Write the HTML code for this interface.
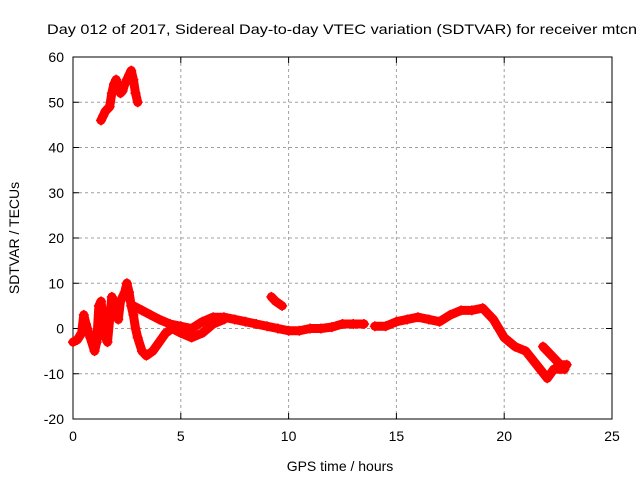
<!DOCTYPE html>
<html><head><meta charset="utf-8"><style>
body{margin:0;background:#fff;font-family:"Liberation Sans",sans-serif}
svg text{font-family:"Liberation Sans",sans-serif;font-size:14px;fill:#000}
</style></head><body>
<svg width="640" height="480">
<g id="grid"></g>
<g id="axes"></g>
<g id="marks"></g>
<text x="47" y="34" textLength="590" lengthAdjust="spacingAndGlyphs">Day 012 of 2017, Sidereal Day-to-day VTEC variation (SDTVAR) for receiver mtcn</text>
<text x="340" y="471" text-anchor="middle">GPS time / hours</text>
<text transform="translate(19,238) rotate(-90)" text-anchor="middle">SDTVAR / TECUs</text>
</svg>
<script>
const xTicks=[0,5,10,15,20,25];
const yTicks=[-20,-10,0,10,20,30,40,50,60];
const trackA=[[1.3,46],[1.4,47],[1.5,48],[1.6,48.5],[1.7,49],[1.8,52],[1.9,54],[2.0,55],[2.1,53],[2.2,52],[2.3,52.5],[2.4,54],[2.5,55],[2.6,56],[2.7,57],[2.8,55],[2.9,52],[3.0,50]];
const trackB=[[0,-3],[0.2,-2.5],[0.4,-1],[0.5,3],[0.6,1],[0.8,-2],[1.0,-5],[1.1,-3],[1.2,5],[1.3,6],[1.4,2],[1.5,-2],[1.6,-3],[1.7,2],[1.8,7],[1.9,6],[2.0,5],[2.1,2],[2.2,6],[2.4,8],[2.5,10],[2.6,8],[2.7,5],[2.8,3],[2.9,0],[3.0,-2],[3.2,-5],[3.4,-6],[3.7,-5],[4.0,-3],[4.3,-1],[4.6,0],[5.0,-1],[5.5,-2],[6.0,-1],[6.5,1],[7.0,2]];
const trackC=[[2.8,5],[3.2,4],[3.6,3],[4.0,2],[4.5,1],[5.0,0.5],[5.5,0],[6.0,1.5],[6.5,2.5],[7.0,2.5],[7.5,2],[8,1.5],[8.5,1],[9,0.5],[9.5,0],[10,-0.5],[10.5,-0.5],[11,0],[11.5,0],[12,0.3],[12.5,1],[13,1],[13.5,1]];
const trackD=[[9.2,7],[9.4,6],[9.7,5]];
const trackE=[[14,0.5],[14.5,0.5],[15,1.5],[15.5,2],[16,2.5],[16.5,2],[17,1.5],[17.5,3],[18,4],[18.5,4],[19,4.5],[19.5,2],[20,-2],[20.5,-4],[21,-5],[21.5,-8],[22,-11],[22.3,-9],[22.8,-9]];
const trackF=[[21.8,-4],[22.2,-6],[22.6,-8],[22.9,-8]];
const tracks=[trackA,trackB,trackC,trackD,trackE,trackF];
const L=73,R=612,T=57,B=419;
const xs=v=>L+(v-0)/25*(R-L), ys=v=>B-(v+20)/80*(B-T);
const NS="http://www.w3.org/2000/svg";
function mk(tag,a,p){const e=document.createElementNS(NS,tag);for(const k in a)e.setAttribute(k,a[k]);p.appendChild(e);return e;}
const grid=document.getElementById('grid'),axes=document.getElementById('axes'),marks=document.getElementById('marks');
xTicks.forEach(t=>{const x=xs(t);
 if(t>0&&t<25){const g=mk('line',{x1:x,x2:x,y1:T,y2:B,stroke:'#a0a0a0','stroke-dasharray':'3,3'},grid);}
 mk('line',{x1:x,x2:x,y1:B,y2:B-6,stroke:'#000'},axes);mk('line',{x1:x,x2:x,y1:T,y2:T+6,stroke:'#000'},axes);
 const tx=mk('text',{x:x,y:B+22,'text-anchor':'middle'},axes);tx.textContent=t;
 });
yTicks.forEach(t=>{const y=ys(t);
 if(t>-20&&t<60){const g=mk('line',{x1:L,x2:R,y1:y,y2:y,stroke:'#a0a0a0','stroke-dasharray':'3,3'},grid);}
 mk('line',{x1:L,x2:L+6,y1:y,y2:y,stroke:'#000'},axes);mk('line',{x1:R,x2:R-6,y1:y,y2:y,stroke:'#000'},axes);
 const tx=mk('text',{x:L-9,y:y+5,'text-anchor':'end'},axes);tx.textContent=t;
 });
const fr=mk('rect',{x:L,y:T,width:R-L,height:B-T,fill:'none',stroke:'#000'},axes);

tracks.forEach(tr=>{
 const pl=mk('polyline',{points:tr.map(p=>xs(p[0])+','+ys(p[1])).join(' '),fill:'none',stroke:'#f00','stroke-width':9,'stroke-linejoin':'round','stroke-linecap':'round'},marks);
 
 tr.forEach(p=>{const x=xs(p[0]),y=ys(p[1]);
  const m=mk('path',{d:`M${x-5},${y}h10M${x},${y-5}v10`,stroke:'#f00','stroke-width':1.5},marks);
  });
});
</script>
</body></html>
